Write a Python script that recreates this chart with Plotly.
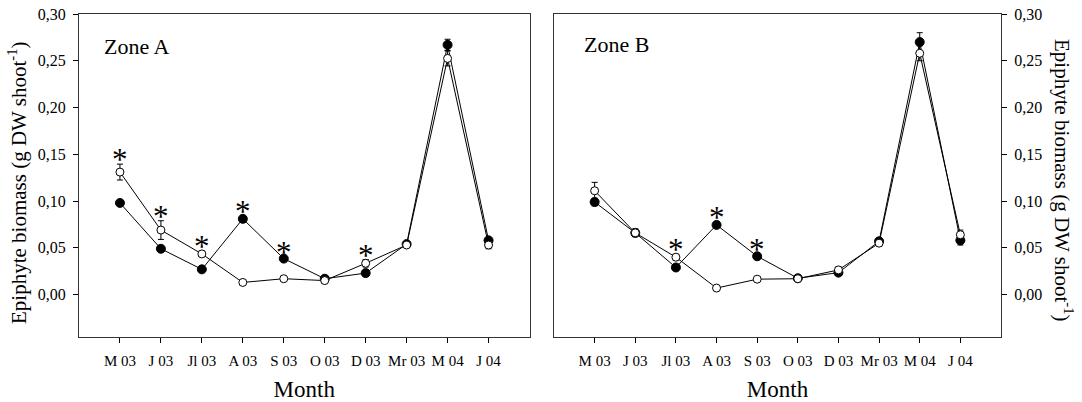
import plotly.graph_objects as go

months = ["M 03", "J 03", "Jl 03", "A 03", "S 03", "O 03", "D 03", "Mr 03", "M 04", "J 04"]

# Zone A
a_closed = [0.098, 0.049, 0.027, 0.081, 0.0385, 0.017, 0.023, 0.054, 0.267, 0.058]
a_closed_err = [0.002, 0.002, 0.002, 0.003, 0.002, 0.002, 0.003, 0.002, 0.006, 0.003]
a_open = [0.131, 0.069, 0.0435, 0.013, 0.017, 0.015, 0.0335, 0.053, 0.2525, 0.053]
a_open_err = [0.0085, 0.010, 0.003, 0.002, 0.002, 0.003, 0.004, 0.002, 0.008, 0.004]
a_signif = [1, 1, 1, 1, 1, 0, 1, 0, 0, 0]

# Zone B
b_closed = [0.099, 0.066, 0.029, 0.0745, 0.041, 0.0175, 0.0235, 0.057, 0.270, 0.058]
b_closed_err = [0.004, 0.004, 0.002, 0.003, 0.002, 0.002, 0.003, 0.002, 0.010, 0.005]
b_open = [0.111, 0.066, 0.040, 0.007, 0.0165, 0.017, 0.0264, 0.055, 0.258, 0.064]
b_open_err = [0.009, 0.004, 0.003, 0.002, 0.002, 0.002, 0.003, 0.003, 0.008, 0.005]
b_signif = [0, 0, 1, 1, 1, 0, 0, 0, 0, 0]

xs = list(range(len(months)))
FONT = "Liberation Serif"

fig = go.Figure()


def add_series(xa, ya, closed, closed_err, opn, opn_err):
    fig.add_trace(go.Scatter(
        x=xs, y=closed, xaxis=xa, yaxis=ya, mode="lines+markers",
        line=dict(color="black", width=1),
        marker=dict(symbol="circle", size=9, color="black", line=dict(color="black", width=1)),
        error_y=dict(type="data", array=closed_err, color="black", thickness=1, width=3),
        showlegend=False, hoverinfo="skip"))
    fig.add_trace(go.Scatter(
        x=xs, y=opn, xaxis=xa, yaxis=ya, mode="lines+markers",
        line=dict(color="black", width=1),
        marker=dict(symbol="circle", size=8, color="white", line=dict(color="black", width=1)),
        error_y=dict(type="data", array=opn_err, color="black", thickness=1, width=3),
        showlegend=False, hoverinfo="skip"))


add_series("x", "y", a_closed, a_closed_err, a_open, a_open_err)
add_series("x2", "y2", b_closed, b_closed_err, b_open, b_open_err)

annotations = []


def add_stars(xr, yr, signif, closed, closed_err, opn, opn_err):
    for i, s in enumerate(signif):
        if s:
            top = max(closed[i] + closed_err[i], opn[i] + opn_err[i])
            annotations.append(dict(
                x=xs[i], y=top, xref=xr, yref=yr, text="*", showarrow=False,
                yanchor="bottom", yshift=-15,
                font=dict(family=FONT, size=31, color="black")))


add_stars("x", "y", a_signif, a_closed, a_closed_err, a_open, a_open_err)
add_stars("x2", "y2", b_signif, b_closed, b_closed_err, b_open, b_open_err)

annotations += [
    dict(x=0.052, y=0.898, xref="x domain", yref="y domain", text="Zone A", showarrow=False,
         xanchor="left", yanchor="middle", font=dict(family=FONT, size=22, color="black")),
    dict(x=0.062, y=0.904, xref="x2 domain", yref="y2 domain", text="Zone B", showarrow=False,
         xanchor="left", yanchor="middle", font=dict(family=FONT, size=22, color="black")),
    dict(x=17 / 1082, y=1 - 183 / 402, xref="paper", yref="paper",
         text="Epiphyte biomass (g DW shoot<sup>-1</sup>)", showarrow=False, textangle=-90,
         xanchor="center", yanchor="middle", font=dict(family=FONT, size=21, color="black")),
    dict(x=1063 / 1082, y=1 - 180 / 402, xref="paper", yref="paper",
         text="Epiphyte biomass (g DW shoot<sup>-1</sup>)", showarrow=False, textangle=90,
         xanchor="center", yanchor="middle", font=dict(family=FONT, size=21, color="black")),
]

xcommon = dict(
    range=[-1, 10], tickvals=xs, ticktext=months, ticks="outside", ticklen=5,
    tickcolor="black", showline=True, linecolor="#333", linewidth=1, mirror=True,
    showgrid=False, zeroline=False, tickfont=dict(family=FONT, size=15, color="black"),
    ticklabelstandoff=5,
    title=dict(text="Month", font=dict(family=FONT, size=23, color="black"), standoff=14),
    automargin=False,
)
ycommon = dict(
    range=[-0.045, 0.30], tickvals=[0, 0.05, 0.10, 0.15, 0.20, 0.25, 0.30], tickformat=".2f",
    ticks="outside", ticklen=5, tickcolor="black", showline=True, linecolor="#333",
    linewidth=1, mirror=True, showgrid=False, zeroline=False,
    tickfont=dict(family=FONT, size=16, color="black"), ticklabelstandoff=4,
    domain=[1 - 336.7 / 402, 1 - 14 / 402], automargin=False,
)

fig.update_layout(
    width=1082, height=402,
    margin=dict(l=0, r=0, t=0, b=0, pad=0),
    paper_bgcolor="white", plot_bgcolor="white",
    separators=",.",
    xaxis=dict(xcommon, domain=[79 / 1082, 529.5 / 1082], anchor="y"),
    yaxis=dict(ycommon, anchor="x", side="left"),
    xaxis2=dict(xcommon, domain=[554 / 1082, 1001 / 1082], anchor="y2"),
    yaxis2=dict(ycommon, anchor="x2", side="right"),
    annotations=annotations,
)

fig.write_html("out.html", config={"displayModeBar": False},
               post_script="document.body.style.margin='0px';")
